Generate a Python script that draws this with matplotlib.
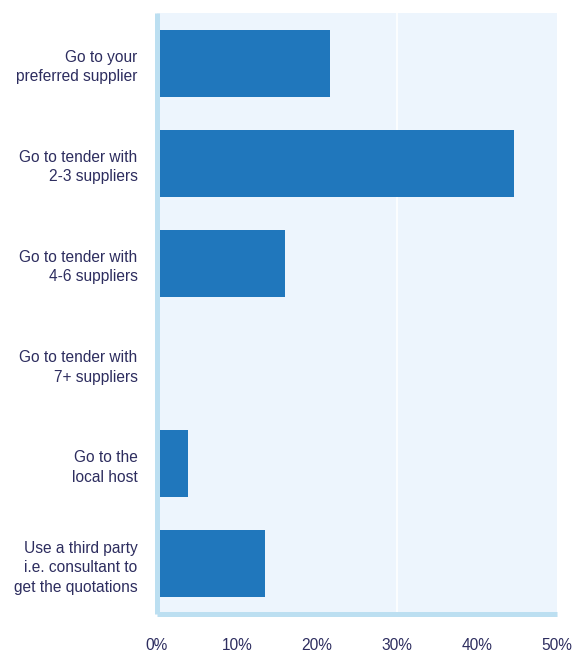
import matplotlib.pyplot as plt

# Survey answers
categories = [
    "Go to your\npreferred supplier",
    "Go to tender with\n2-3 suppliers",
    "Go to tender with\n4-6 suppliers",
    "Go to tender with\n7+ suppliers",
    "Go to the\nlocal host",
    "Use a third party\ni.e. consultant to\nget the quotations",
]
shares = [21.6, 44.6, 16.0, 0.0, 3.9, 13.5]
ticks = [0, 10, 20, 30, 40, 50]
tick_labels = ["0%", "10%", "20%", "30%", "40%", "50%"]

text_col = "#2d2d5f"
bar_col = "#2077bc"
bg_col = "#edf5fd"
line_col = "#bcdff1"

plt.rcParams['font.family'] = ['Liberation Sans', 'DejaVu Sans']

fig = plt.figure(figsize=(5.81, 6.52), dpi=100)
ax = fig.add_axes([157 / 581, 1 - 614 / 652, 400 / 581, 601 / 652])
ax.set_facecolor(bg_col)

y = list(range(len(categories)))
ax.barh(y, shares, height=0.67, color=bar_col, zorder=3)
ax.axvline(30, color="white", lw=1.2, zorder=1)

ax.set_xlim(0, 50)
ax.set_ylim(len(categories) - 0.5, -0.5)
ax.set_yticks(y)
ax.set_yticklabels(categories, fontsize=11.2, color=text_col, linespacing=1.38)
ax.set_xticks(ticks)
ax.set_xticklabels(tick_labels, fontsize=11.2, color=text_col)
ax.tick_params(axis='y', length=0, pad=14)
ax.tick_params(axis='x', length=0, pad=17)

for s in ["top", "right"]:
    ax.spines[s].set_visible(False)
for s in ["left", "bottom"]:
    ax.spines[s].set_color(line_col)
    ax.spines[s].set_linewidth(3.6)
    ax.spines[s].set_capstyle("butt")
    ax.spines[s].set_zorder(4)

fig.savefig("out.png", dpi=100)
